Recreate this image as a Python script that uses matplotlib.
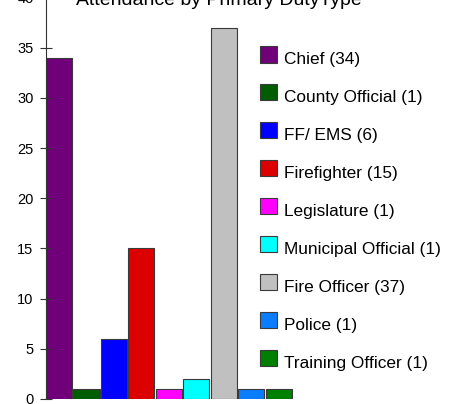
import matplotlib
matplotlib.use("Agg")
import matplotlib.pyplot as plt
import numpy as np

plt.rcParams['font.family'] = ['Liberation Sans', 'DejaVu Sans']

# duty types, bar heights and the counts printed in the legend
duty_types = ["Chief", "County Official", "FF/ EMS", "Firefighter", "Legislature",
              "Municipal Official", "Fire Officer", "Police", "Training Officer"]
attendance = [34, 1, 6, 15, 1, 2, 37, 1, 1]
legend_counts = [34, 1, 6, 15, 1, 1, 37, 1, 1]
bar_colors = ["#6f007a", "#005c00", "#0000ff", "#dd0000", "#ff00ff",
              "#00ffff", "#c0c0c0", "#0a7dff", "#007f00"]

W, H = 454, 404
fig = plt.figure(figsize=(W / 100, H / 100), dpi=100)
# axes placed in pixel units: y=0 at row 399, 35 at row 48, x from 46 to 293
ax = fig.add_axes([46 / W, 5 / H, 247 / W, 401.6 / H])

x = np.arange(len(attendance))
bars = ax.bar(x, attendance, width=0.95, color=bar_colors,
              edgecolor="#3a3a3a", linewidth=0.8)

ax.set_xlim(-0.475, 8.525)
ax.set_ylim(0, 40)
ax.set_yticks(np.arange(0, 41, 5))
ax.set_xticks([])
ax.tick_params(axis='y', direction='inout', length=8, width=0.8, pad=5,
               labelsize=10.5, color="#333333")
for s in ["top", "right", "bottom"]:
    ax.spines[s].set_visible(False)
ax.spines["left"].set_color("#333333")
ax.spines["left"].set_linewidth(0.8)
ax.patch.set_alpha(0)

labels = [f"{n} ({c})" for n, c in zip(duty_types, legend_counts)]
leg = fig.legend(bars, labels, loc="upper left",
                 bbox_to_anchor=(260 / W, 1 - 46 / H), bbox_transform=fig.transFigure,
                 frameon=False, fontsize=12.4, borderpad=0, borderaxespad=0,
                 handlelength=1.0, handleheight=1.1, handletextpad=0.4,
                 labelspacing=1.21)
# labels sit a little lower than the swatches in the original
for t in leg.get_texts():
    t.set_y(-4)

fig.text(219 / W, 1 - 5 / H, "Attendance by Primary DutyType",
         ha="center", va="baseline", fontsize=14)

fig.savefig("out.png", dpi=100)
